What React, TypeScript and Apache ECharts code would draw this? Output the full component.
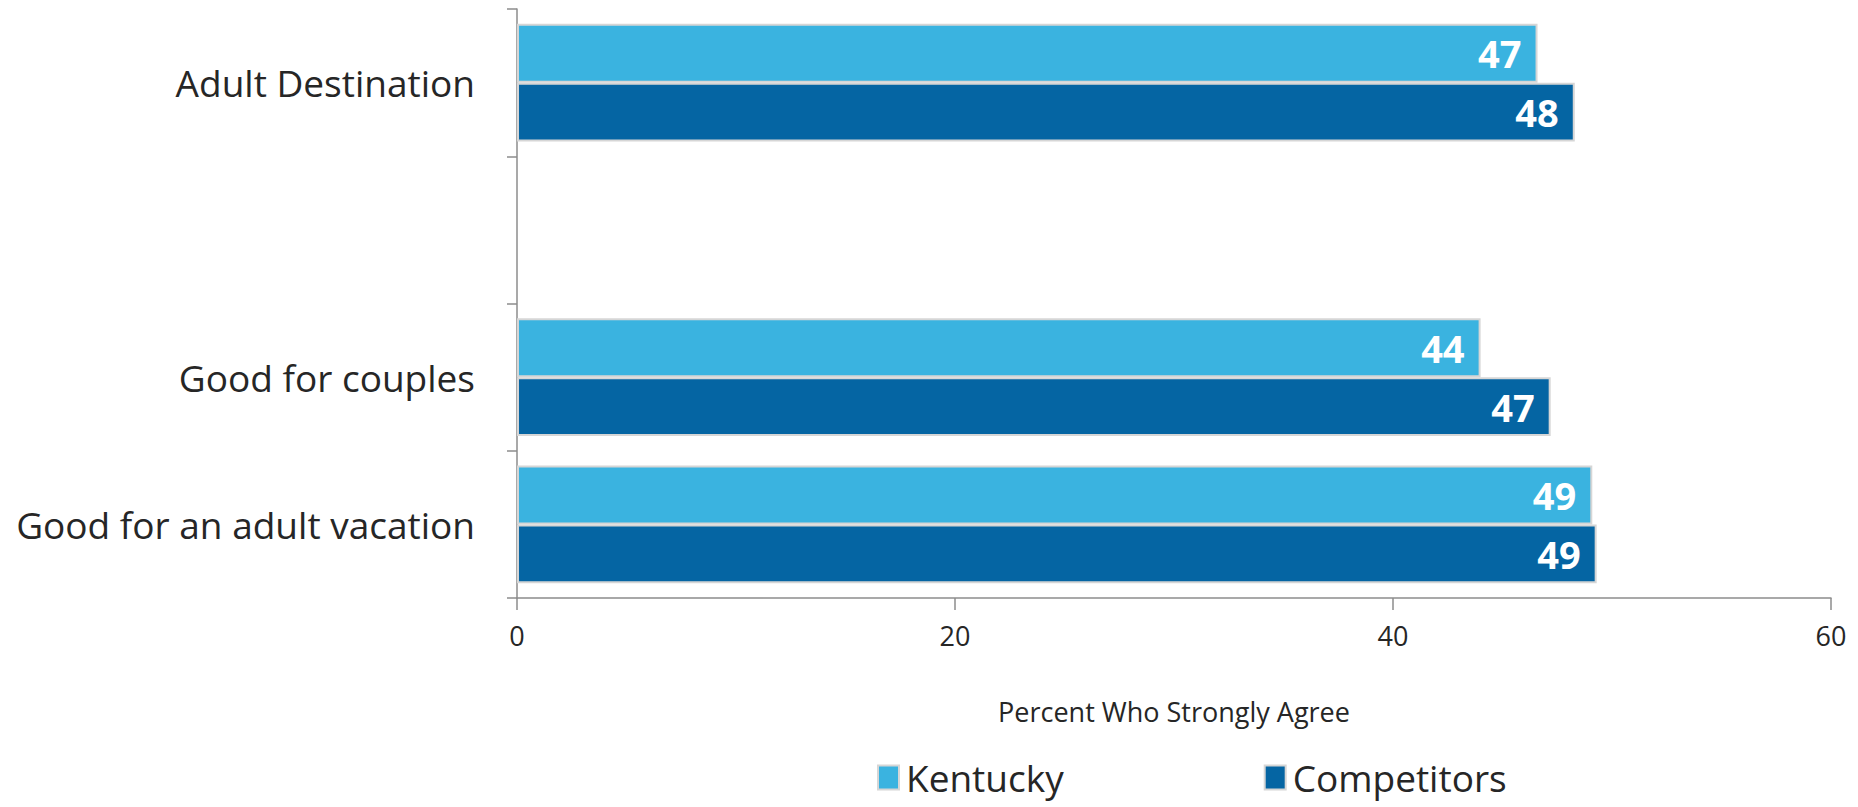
import React, { useEffect, useRef } from "react";
import * as echarts from "echarts";

const categories: string[] = ["Adult Destination", "", "Good for couples", "Good for an adult vacation"];
const kentucky: (number | null)[] = [46.6, null, 44.0, 49.1];
const competitors: (number | null)[] = [48.3, null, 47.2, 49.3];
const seriesNames: string[] = ["Kentucky", "Competitors"];
const xTicks = { min: 0, max: 60, interval: 20 };
const axisTitle = "Percent Who Strongly Agree";

const FONT = "'Open Sans', 'Noto Sans', sans-serif";
const LIGHT = "#3AB3E0";
const DARK = "#0565A3";

export default function App() {
  const ref = useRef<HTMLDivElement>(null);
  useEffect(() => {
    if (!ref.current) return;
    const chart = echarts.init(ref.current, undefined, { renderer: "svg" });
    const labelCfg = {
      show: true,
      position: "insideRight",
      distance: 16,
      color: "#ffffff",
      fontFamily: FONT,
      fontWeight: "bold",
      fontSize: 38,
      formatter: (p: any) => String(Math.round(p.value)),
    };
    chart.setOption({
      animation: false,
      textStyle: { fontFamily: FONT },
      grid: { left: 517, right: 27, top: 9, bottom: 209, containLabel: false },
      legend: {
        data: seriesNames,
        bottom: 6,
        left: 872,
        itemWidth: 21,
        itemHeight: 24,
        itemGap: 200,
        icon: "rect",
        textStyle: { fontFamily: FONT, fontSize: 37, color: "#262626", padding: [0, 0, 0, 2] },
      },
      xAxis: {
        type: "value",
        min: xTicks.min,
        max: xTicks.max,
        interval: xTicks.interval,
        name: axisTitle,
        nameLocation: "middle",
        nameGap: 100,
        nameTextStyle: { fontFamily: FONT, fontSize: 27, color: "#262626" },
        axisLine: { show: true, lineStyle: { color: "#8c8c8c", width: 1.5 } },
        axisTick: { show: true, length: 12, lineStyle: { color: "#8c8c8c", width: 1.5 } },
        splitLine: { show: false },
        axisLabel: { fontFamily: FONT, fontSize: 27, color: "#262626", margin: 24 },
      },
      yAxis: {
        type: "category",
        data: categories,
        inverse: true,
        axisLine: { show: true, lineStyle: { color: "#8c8c8c", width: 1.5 } },
        axisTick: { show: true, length: 10, inside: false, lineStyle: { color: "#8c8c8c", width: 1.5 } },
        axisLabel: { fontFamily: FONT, fontSize: 37, color: "#262626", margin: 42 },
        splitLine: { show: false },
      },
      series: [
        {
          name: seriesNames[0],
          type: "bar",
          data: kentucky,
          barGap: "0%",
          barCategoryGap: "20%",
          itemStyle: { color: LIGHT, borderColor: "#d6d6d6", borderWidth: 2 },
          label: labelCfg,
        },
        {
          name: seriesNames[1],
          type: "bar",
          data: competitors,
          barGap: "0%",
          barCategoryGap: "20%",
          itemStyle: { color: DARK, borderColor: "#d6d6d6", borderWidth: 2 },
          label: labelCfg,
        },
      ],
    });
    return () => chart.dispose();
  }, []);
  return (
    <div
      ref={ref}
      style={{ position: "fixed", left: 0, top: 0, width: 1858, height: 807, background: "#ffffff" }}
    />
  );
}
